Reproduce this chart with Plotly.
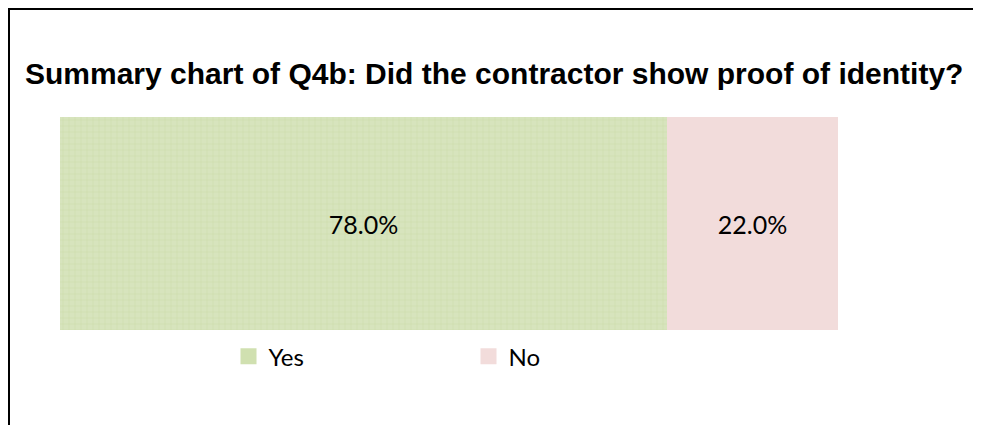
import plotly.graph_objects as go

# data
categories = ["Yes", "No"]
values = [78.0, 22.0]
labels = ["78.0%", "22.0%"]
colors = ["#d7e4bd", "#f2dcdb"]

# page body adds an 8px margin, so positions below are shifted by -8
L, R, T, B = 52, 981 - 830, 109, 425 - 322
pw, ph = 830 - L, 322 - T

fig = go.Figure()
for i, cat in enumerate(categories):
    bar = go.Bar(
        y=["Q4b"], x=[values[i]], name=cat, orientation="h",
        text=[labels[i]], textposition="inside", insidetextanchor="middle",
        textfont=dict(family="Lato", size=25, color="black"),
        marker=dict(color=colors[i], line=dict(width=0)),
        width=1, showlegend=False,
    )
    if cat == "Yes":
        # grid-like pattern of the Excel fill
        bar.marker.pattern = dict(shape="+", size=6, solidity=0.12,
                                  fgcolor="#c6d8a0", bgcolor=colors[i], fillmode="replace")
    fig.add_trace(bar)
    # legend entries with a bigger square
    fig.add_trace(go.Scatter(
        x=[None], y=[None], mode="markers", name=cat,
        marker=dict(symbol="square", size=16, color=colors[i] if cat == "No" else "#d0e0b0"),
    ))

fig.update_layout(
    width=981, height=425,
    barmode="stack", bargap=0,
    plot_bgcolor="white", paper_bgcolor="white",
    margin=dict(l=L, r=R, t=T, b=B),
    title=dict(text="<b>Summary chart of Q4b: Did the contractor show proof of identity?</b>",
               x=17/981, xanchor="left", y=1-65/425, yanchor="middle",
               font=dict(family="Liberation Sans", size=30, color="black")),
    xaxis=dict(range=[0, 100], visible=False),
    yaxis=dict(range=[-0.5, 0.5], visible=False),
    legend=dict(orientation="h", x=(220.5-L)/pw, xanchor="left", y=-0.02, yanchor="top",
                entrywidth=195, font=dict(family="Lato", size=24, color="black"),
                traceorder="normal", itemsizing="trace"),
    showlegend=True,
)

# outer frame (left + top edges visible, rest runs off the page)
fig.add_shape(type="rect", xref="paper", yref="paper",
              x0=(1-L)/pw, x1=1+(990-830)/pw, y0=-1, y1=1+(T-1)/ph,
              line=dict(color="black", width=2), layer="below")

fig.write_html("out.html")
